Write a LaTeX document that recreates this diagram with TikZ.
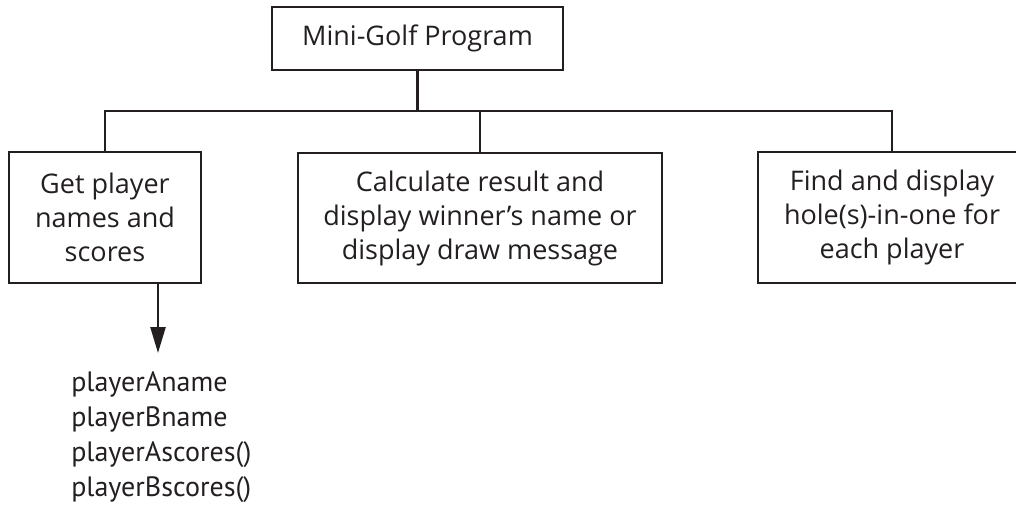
\documentclass[tikz,border=0pt]{standalone}
\usepackage{fontspec}
\setmainfont{Open Sans}
\newfontfamily\listfont{PT Sans}
\usetikzlibrary{arrows.meta}
\definecolor{ink}{HTML}{231F20}

\begin{document}
\begin{tikzpicture}[x=1pt,y=-1pt,line width=2.5pt,
  box/.style={draw=ink,text=ink,align=center,inner sep=0pt,font=\fontsize{27}{34}\selectfont}]
  \useasboundingbox (0,0) rectangle (1016,506);
  \node (prog) at (417.5,38.5) [box,minimum width=291pt,minimum height=63pt] {Mini-Golf Program};
  \node (names) at (105,217.5) [box,minimum width=192pt,minimum height=131pt] {Get player\\names and\\scores};
  \node (calc) at (480,218) [box,minimum width=364pt,minimum height=130pt] {Calculate result and\\display winner's name or\\display draw message};
  \node (holes) at (892,217.5) [box,minimum width=268pt,minimum height=131pt] {Find and display\\hole(s)-in-one for\\each player};
  \coordinate (bus) at (0,111);
  \coordinate (tip) at (158,353);
  \draw[ink] (prog) -- (prog |- bus);
  \draw[ink] (names.north) -- (names.north |- bus) -- (holes.north |- bus) -- (holes.north);
  \draw[ink] (calc.north) -- (calc.north |- bus);
  \draw[ink,-{Triangle[length=26pt,width=15pt]}] (names.south -| tip) -- (tip);
  \node (vars) at (70,370) [anchor=north west,align=left,inner sep=0pt,text=ink,font=\listfont\fontsize{28}{35}\selectfont] {playerAname\\playerBname\\playerAscores()\\playerBscores()};
\end{tikzpicture}
\end{document}
